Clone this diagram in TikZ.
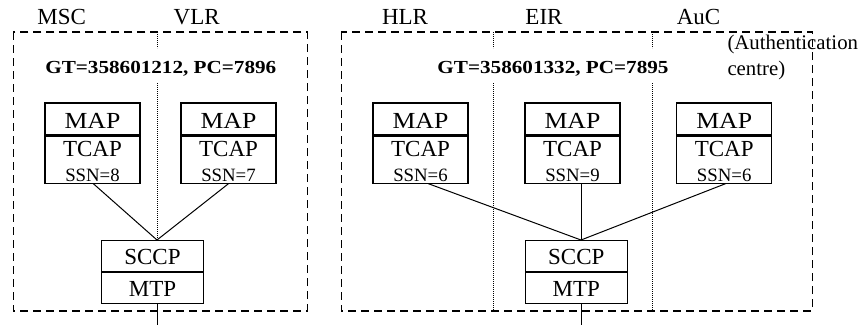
\documentclass[tikz,border=0pt]{standalone}
\usepackage{fontspec}
\setmainfont{Liberation Serif}
\newfontfamily\gtfont{Liberation Serif}[FakeStretch=1.15]
\newfontfamily\mapfont{Liberation Serif}[FakeStretch=1.12]
\tikzset{
  box/.style={draw, line width=1.1pt, minimum width=95pt, inner sep=0pt},
  sbox/.style={draw, line width=1.1pt, minimum width=102pt, minimum height=31pt, inner sep=0pt},
  big/.style={font=\fontsize{23}{26}\selectfont, inner sep=0pt},
  mapstyle/.style={font=\mapfont\fontsize{23}{26}\selectfont, inner sep=0pt},
  small/.style={font=\fontsize{18.8}{21}\selectfont, inner sep=0pt},
  gt/.style={font=\gtfont\fontsize{18.4}{22}\selectfont\bfseries, inner sep=0pt},
  auth/.style={font=\fontsize{20.8}{24}\selectfont, inner sep=0pt},
  frame/.style={line width=1.1pt, dash pattern=on 8pt off 5pt},
  divider/.style={line width=0.7pt, dash pattern=on 0.8pt off 1.2pt},
  conn/.style={line width=1pt},
}
\newcommand\mkstack[3]{%
  \node[box, minimum height=32pt] (#1map) at (#2,-119) {};
  \node[box, minimum height=47pt, anchor=north] (#1tcap) at (#1map.south) {};
  \node[mapstyle, anchor=base] (#1mapt) at (#2,-128.5) {MAP};
  \node[big, anchor=base] (#1tcapt) at (#2,-156.5) {TCAP};
  \node[small, anchor=base] (#1ssn) at (#2,-181.5) {SSN=#3};
}
\newcommand\mksccp[3]{%
  \node[sbox, anchor=north] (#1sccp) at (#2,-240) {};
  \node[sbox, anchor=north] (#1mtp) at (#1sccp.south) {};
  \node[big, anchor=base] (#1sccpt) at (#3,-264) {SCCP};
  \node[big, anchor=base] (#1mtpt) at (#3,-296) {MTP};
}
\begin{document}
\begin{tikzpicture}[x=1pt, y=1pt]
\useasboundingbox (0,0) rectangle (864,-325);

% frames
\draw[frame] (13.3,-32) rectangle (307.3,-311);
\draw[frame] (341.3,-32) rectangle (812.5,-311);

% dividers
\draw[divider] (157,-32) -- (157,-48);
\draw[divider] (157,-83) -- (157,-240);
\draw[divider] (493,-32) -- (493,-48);
\draw[divider] (493,-83) -- (493,-311);
\draw[divider] (652.6,-32) -- (652.6,-48);
\draw[divider] (652.6,-83) -- (652.6,-311);

% top labels
\node[big, anchor=base] (lmsc) at (61.7,-24) {MSC};
\node[big, anchor=base] (lvlr) at (196.7,-24) {VLR};
\node[big, anchor=base] (lhlr) at (405,-24) {HLR};
\node[big, anchor=base] (leir) at (544,-24) {EIR};
\node[big, anchor=base] (lauc) at (698.5,-24) {AuC};
\node[auth, anchor=base west] (auth1) at (727.3,-49) {(Authentication};
\node[auth, anchor=base west] (auth2) at (727.3,-75) {centre)};

% GT labels
\node[gt, anchor=base] (gtL) at (160.8,-73) {GT=358601212, PC=7896};
\node[gt, anchor=base] (gtR) at (553,-73) {GT=358601332, PC=7895};

% stacks
\mkstack{A}{92.5}{8}
\mkstack{B}{228.5}{7}
\mkstack{C}{420.5}{6}
\mkstack{D}{572.5}{9}
\mkstack{E}{724.2}{6}

\mksccp{L}{152.5}{152.5}
\mksccp{R}{576.3}{576.3}

% junctions
\coordinate (jL) at (157,-240);
\coordinate (jR) at (581,-240);
\coordinate (endL) at (157.7,-325);
\coordinate (endR) at (581,-325);

% connectors
\draw[conn] ([xshift=0.8pt]Atcap.south) -- (jL);
\draw[conn] (Btcap.south) -- (jL);
\draw[conn] ([xshift=7.8pt]Ctcap.south) -- (jR);
\draw[conn] ([xshift=8.5pt]Dtcap.south) -- (jR);
\draw[conn] ([xshift=1.4pt]Etcap.south) -- (jR);
\draw[conn] (endL |- Lmtp.south) -- (endL);
\draw[conn] (endR |- Rmtp.south) -- (endR);
\end{tikzpicture}
\end{document}
